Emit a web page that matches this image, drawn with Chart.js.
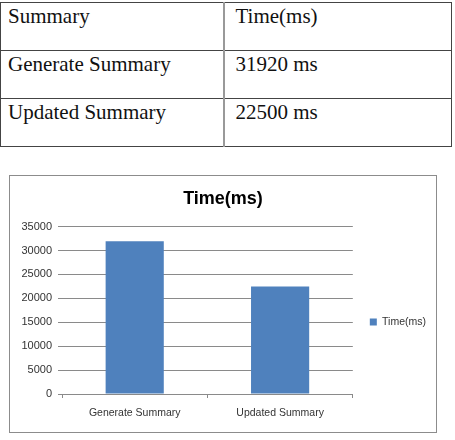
<!DOCTYPE html>
<html>
<head>
<meta charset="utf-8">
<script src="https://cdn.jsdelivr.net/npm/chart.js@4"></script>
<style>
  html, body { margin: 0; padding: 0; background: #fff; }
  body { width: 455px; height: 440px; position: relative; overflow: hidden; }
  #tbl {
    position: absolute; left: 0; top: 2px;
    border-collapse: collapse; table-layout: fixed;
    font-family: "Liberation Serif", serif; font-size: 21px; color: #111;
  }
  #tbl td {
    border: 1px solid #444; height: 48px; padding: 3px 0 0 7px;
    vertical-align: top; line-height: 21px; box-sizing: border-box;
  }
  #tbl td.v { border-left: 2px solid #999; padding-left: 11px; }
  #box {
    position: absolute; left: 9px; top: 175px; width: 428px; height: 258px;
    border: 1px solid #8c8c8c; box-sizing: border-box;
  }
  #chart { display: block; }
</style>
</head>
<body>
<table id="tbl">
  <colgroup><col style="width:223px"><col style="width:228px"></colgroup>
  <tbody id="rows"></tbody>
</table>
<div id="box"><canvas id="chart" width="426" height="256"></canvas></div>
<script>
// data
const headers = ['Summary', 'Time(ms)'];
const categories = ['Generate Summary', 'Updated Summary'];
const timeValues = [31920, 22500];
const seriesLabel = 'Time(ms)';
const yMax = 35000, yStep = 5000;

// table above the chart
const rows = document.getElementById('rows');
[headers].concat(categories.map((c, i) => [c, timeValues[i] + ' ms'])).forEach(r => {
    const tr = document.createElement('tr');
    r.forEach((txt, j) => {
        const td = document.createElement('td');
        td.textContent = txt;
        if (j == 1) td.className = 'v';
        tr.appendChild(td);
    });
    rows.appendChild(tr);
});

const font = 'Liberation Sans, Arial, sans-serif',
      gridColor = '#8a8a8a',
      textColor = '#333';

new Chart(document.getElementById('chart').getContext('2d'), {
    type: 'bar',
    data: {
        labels: categories,
        datasets: [{
            label: seriesLabel,
            data: timeValues,
            backgroundColor: '#4f81bd',
            borderWidth: 0,
            barPercentage: 0.4,
            categoryPercentage: 1
        }]
    },
    options: {
        responsive: false,
        animation: false,
        plugins: {
            title: {
                display: true,
                text: seriesLabel,
                color: '#000',
                font: { family: font, size: 18, weight: 'bold' },
                padding: { top: 12, bottom: 17 }
            },
            legend: {
                position: 'right',
                // empty title only pushes the entry down a little
                title: { display: true, text: '', font: { size: 10 }, padding: 12 },
                labels: {
                    boxWidth: 7, boxHeight: 7, padding: 17,
                    color: textColor,
                    font: { family: font, size: 10.5 }
                }
            },
            tooltip: { enabled: false }
        },
        scales: {
            x: {
                grid: { display: true, drawOnChartArea: false, color: gridColor, tickLength: 4 },
                border: { display: true, color: gridColor },
                ticks: { color: textColor, font: { family: font, size: 10.5 }, padding: 9 },
                afterFit: s => { s.height = 38; }
            },
            y: {
                min: 0, max: yMax,
                grid: { color: gridColor, tickLength: 4 },
                border: { display: false },
                ticks: {
                    stepSize: yStep, color: textColor, font: { family: font, size: 11 }, padding: 6,
                    callback: v => String(v)
                },
                afterFit: s => { s.width = 52; }
            }
        }
    }
});
</script>
</body>
</html>
